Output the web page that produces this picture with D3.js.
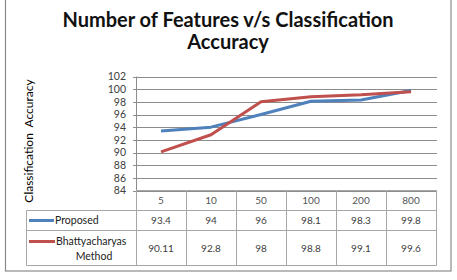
<!DOCTYPE html>
<html><head><meta charset="utf-8">
<script src="https://cdn.jsdelivr.net/npm/d3@7"></script>
<style>body{margin:0;background:#fff}svg{display:block}text{font-family:Lato,"Open Sans",sans-serif}</style>
</head><body><svg id="c" width="457" height="280"></svg>
<script>
const categories = ["5","10","50","100","200","800"];
const proposed = [93.4, 94, 96, 98.1, 98.3, 99.8];
const bhatt = [90.11, 92.8, 98, 98.8, 99.1, 99.6];
const proposedLabels = ["93.4","94","96","98.1","98.3","99.8"];
const bhattLabels = ["90.11","92.8","98","98.8","99.1","99.6"];
const yTicks = [84,86,88,90,92,94,96,98,100,102];
const seriesNames = ["Proposed", ["Bhattyacharyas","Method"]];
const colors = ["#4f81bd", "#c0504d"];

(function(){
const svg = d3.select("#c");
// outer frame
svg.append("rect").attr("x",5.5).attr("y",-5).attr("width",445.5).attr("height",276)
  .attr("fill","none").attr("stroke","#8a8a8a").attr("stroke-width",1.2);

// title
const title = svg.append("text").attr("text-anchor","middle").attr("font-weight","bold")
  .attr("font-size",20).attr("fill","#111");
title.append("tspan").attr("x",228).attr("y",27).text("Number of Features v/s Classification");
title.append("tspan").attr("x",228).attr("y",49).text("Accuracy");

const pL = 136, pR = 436, pT = 76.5, pB = 190.5;
const x = d3.scaleBand().domain(categories).range([pL, pR]);
const y = d3.scaleLinear().domain([84, 102]).range([pB, pT]);

// gridlines
svg.append("g").selectAll("line").data(yTicks).join("line")
  .attr("x1", pL-3).attr("x2", pR+1).attr("y1", d=>Math.round(y(d))+0.5).attr("y2", d=>Math.round(y(d))+0.5)
  .attr("stroke","#8c8c8c").attr("stroke-width",1);
// y axis line
svg.append("line").attr("x1",pL+0.5).attr("x2",pL+0.5).attr("y1",pT).attr("y2",pB)
  .attr("stroke","#8c8c8c");

// y tick labels
svg.append("g").selectAll("text").data(yTicks).join("text")
  .attr("x", 126).attr("y", d=>y(d)).attr("dy","0.35em").attr("text-anchor","end")
  .attr("font-size",10.5).attr("fill","#404040").text(d=>d);

// y axis title
svg.append("text").attr("transform","translate(33,141) rotate(-90)").attr("text-anchor","middle")
  .attr("font-size",12).attr("fill","#000").attr("word-spacing",3).text("Classification Accuracy");

// lines
const line = d3.line().x((d,i)=>x(categories[i])+x.bandwidth()/2).y(d=>y(d));
[proposed, bhatt].forEach((s,k)=>{
  svg.append("path").datum(s).attr("d",line).attr("fill","none")
    .attr("stroke",colors[k]).attr("stroke-width",3).attr("stroke-linejoin","round");
});

// data table
const tStroke = "#a6a6a6";
const rowTop = 190.5, r1 = 210.5, r2 = 230.5, rBot = 265.5, legL = 26.5;
const tg = svg.append("g").attr("stroke",tStroke).attr("stroke-width",1);
tg.append("line").attr("x1",pL+0.5).attr("x2",pR+0.5).attr("y1",rowTop).attr("y2",rowTop);
[r1, r2, rBot].forEach(yy=>tg.append("line").attr("x1",legL).attr("x2",pR+0.5).attr("y1",yy).attr("y2",yy));
tg.append("line").attr("x1",legL).attr("x2",legL).attr("y1",r1).attr("y2",rBot);
categories.forEach(c=>{
  tg.append("line").attr("x1",Math.round(x(c))+0.5).attr("x2",Math.round(x(c))+0.5).attr("y1",rowTop).attr("y2",rBot);
});
tg.append("line").attr("x1",pR+0.5).attr("x2",pR+0.5).attr("y1",rowTop).attr("y2",rBot);

// header labels
svg.append("g").selectAll("text").data(categories).join("text")
  .attr("x", d=>x(d)+x.bandwidth()/2).attr("y",(rowTop+r1)/2).attr("dy","0.35em")
  .attr("text-anchor","middle").attr("font-size",10).attr("fill","#555").text(d=>d);
// values
[[proposedLabels,(r1+r2)/2],[bhattLabels,(r2+rBot)/2]].forEach(([labs,yy])=>{
  svg.append("g").selectAll("text").data(labs).join("text")
    .attr("x",(d,i)=>x(categories[i])+x.bandwidth()/2).attr("y",yy).attr("dy","0.35em")
    .attr("text-anchor","middle").attr("font-size",10).attr("fill","#404040").text(d=>d);
});
// legend keys
svg.append("line").attr("x1",29).attr("x2",54).attr("y1",220.5).attr("y2",220.5).attr("stroke",colors[0]).attr("stroke-width",3);
svg.append("text").attr("x",55).attr("y",220.5).attr("dy","0.35em").attr("font-size",10.5).attr("fill","#222").text(seriesNames[0]);
svg.append("line").attr("x1",29).attr("x2",55).attr("y1",241.5).attr("y2",241.5).attr("stroke",colors[1]).attr("stroke-width",3);
svg.append("text").attr("x",56).attr("y",241.5).attr("dy","0.35em").attr("font-size",10.5).attr("fill","#222").text(seriesNames[1][0]);
svg.append("text").attr("x",94).attr("y",256).attr("dy","0.35em").attr("text-anchor","middle").attr("font-size",10.5).attr("fill","#222").text(seriesNames[1][1]);
})();
</script></body></html>
